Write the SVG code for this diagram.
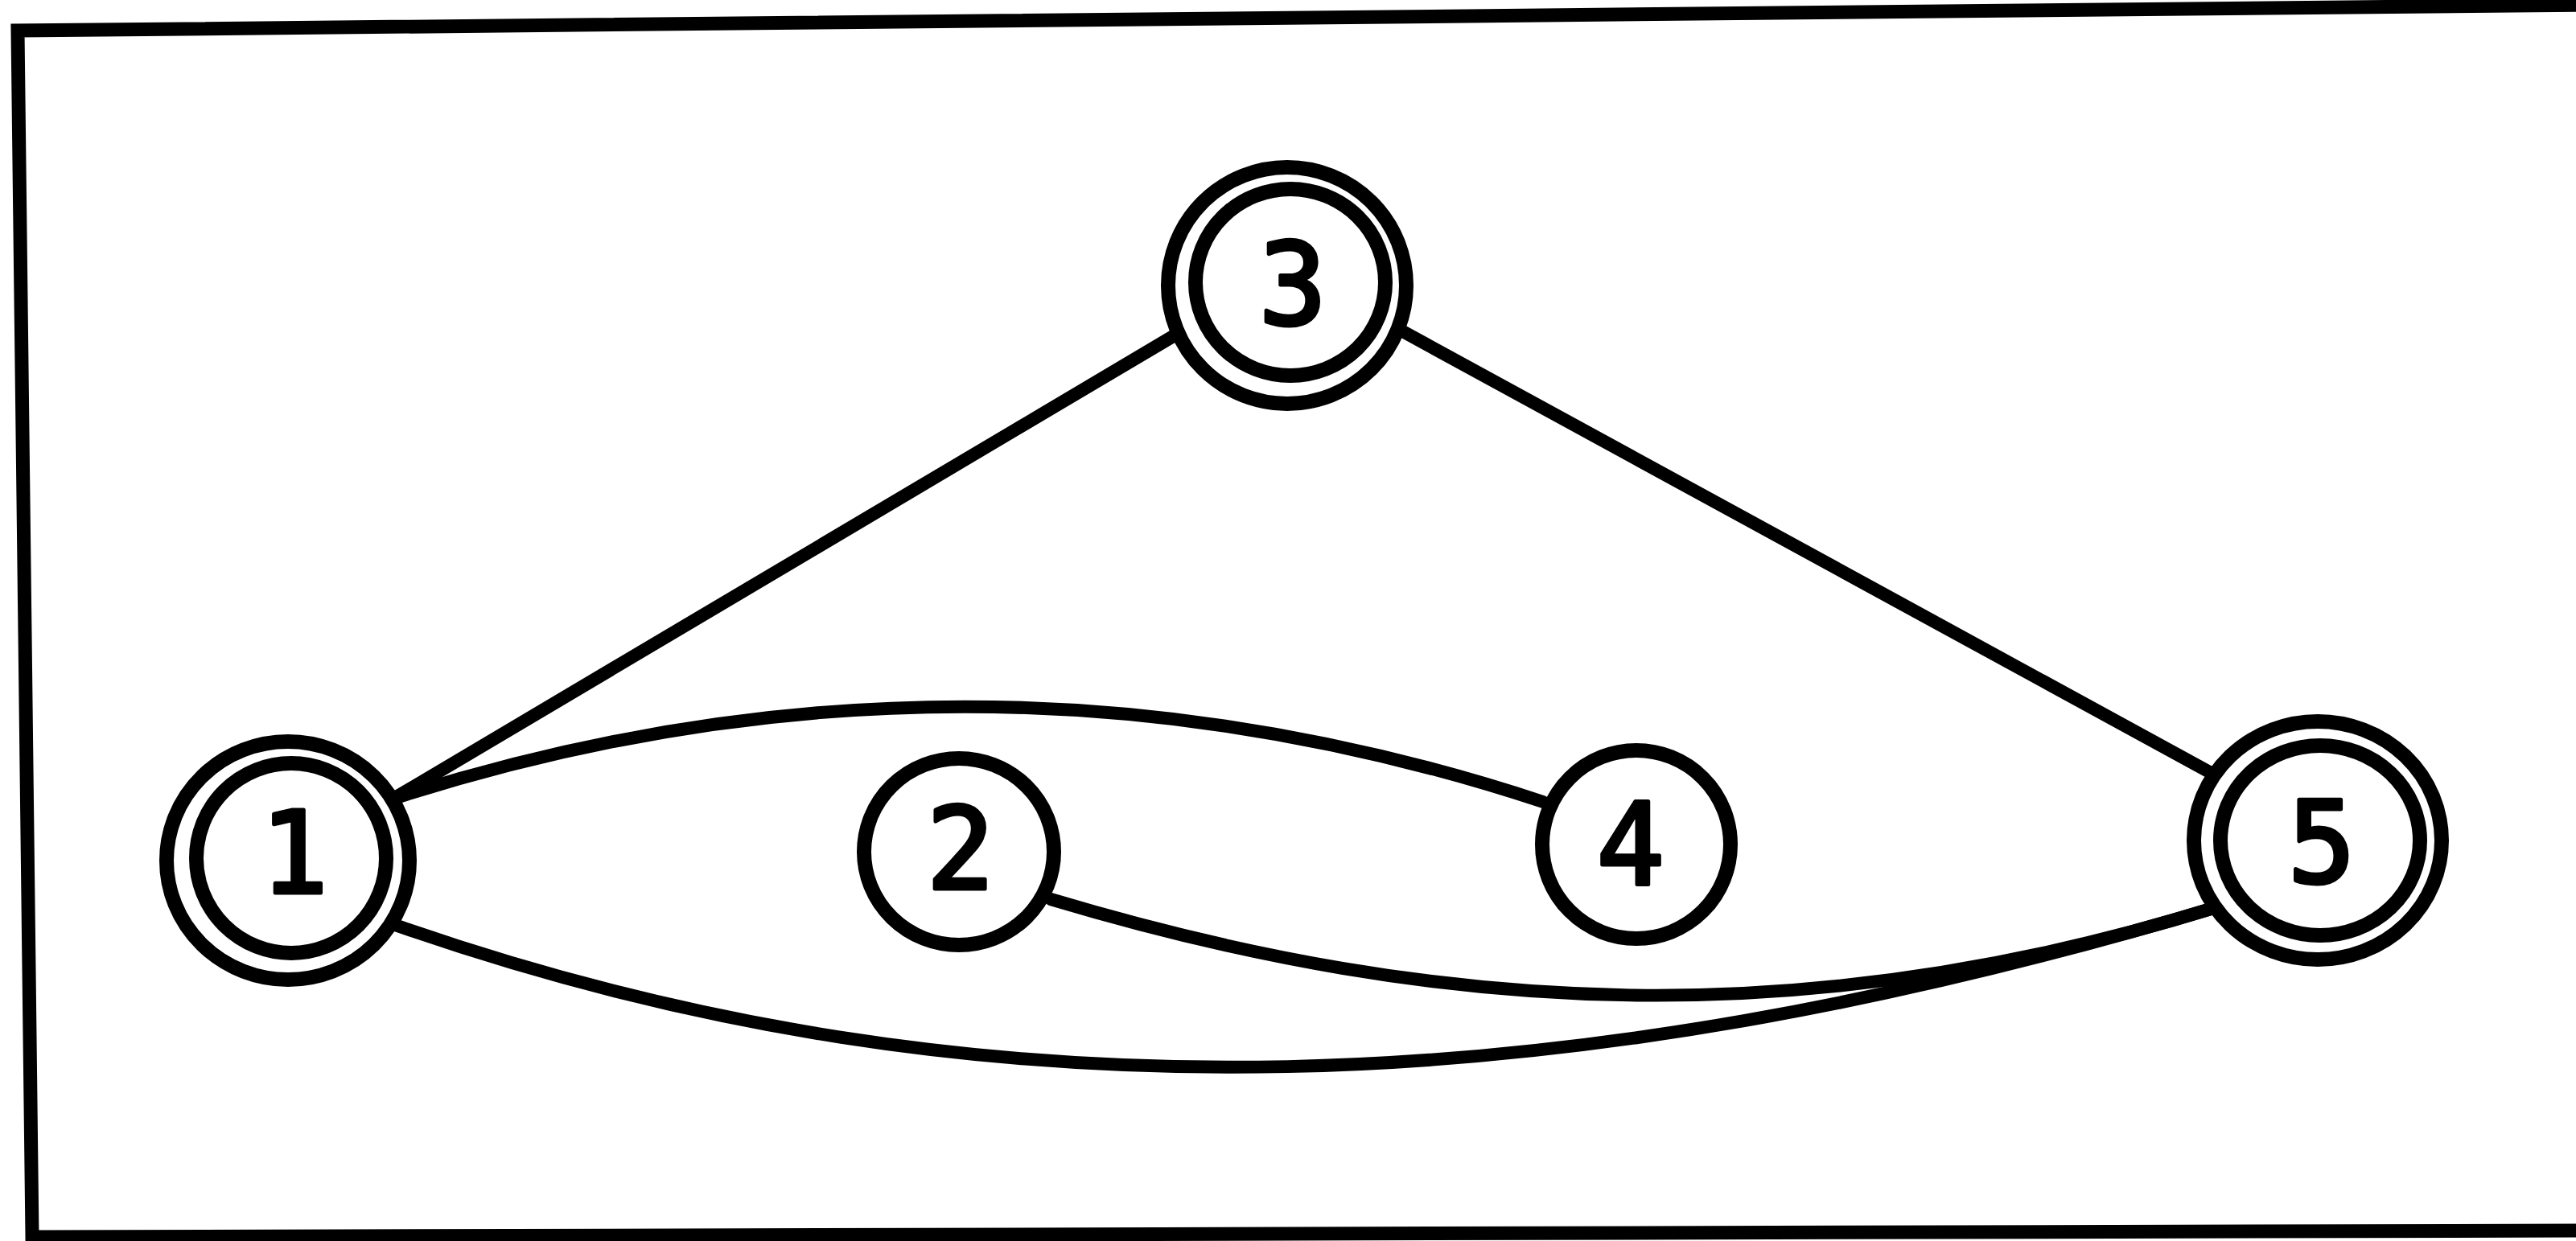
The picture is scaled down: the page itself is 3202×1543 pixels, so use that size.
<svg xmlns="http://www.w3.org/2000/svg" width="3202" height="1543" viewBox="0 0 3202 1543">
<style>
.ring{fill:#fff;stroke:#000;stroke-width:18}
.inner{fill:none;stroke:#000;stroke-width:18}
.edge{fill:none;stroke:#000;stroke-width:16;stroke-linecap:round}
.lbl{font-family:"DejaVu Sans Mono","Liberation Mono",monospace;font-size:140px;text-anchor:middle;fill:#000;stroke:#000;stroke-width:5;stroke-linejoin:round}
.frame{fill:none;stroke:#000;stroke-width:17}
</style>
<rect width="3202" height="1543" fill="#fff"/>
<path class="frame" d="M3215,6 L22,38 L40,1538 L3215,1530"/>
<g id="connectors">
<path class="edge" d="M489,993 L1460,417"/>
<path class="edge" d="M1740,410 L2752,963"/>
<path class="edge" d="M489,993 C965,840 1442,840 1918,997"/>
<path class="edge" d="M1306,1118 C1800,1266 2250,1285 2755,1128"/>
<path class="edge" d="M491,1150 C1231,1409 1955,1368 2755,1128"/>
</g>
<g id="node1">
<ellipse class="ring" cx="358" cy="1070" rx="151" ry="148"/>
<ellipse class="inner" cx="362" cy="1067" rx="118" ry="118"/>
<text class="lbl" x="366" y="1110">1</text>
</g>
<g id="node2">
<ellipse class="ring" cx="1192" cy="1059" rx="118" ry="116"/>
<text class="lbl" x="1194" y="1105">2</text>
</g>
<g id="node3">
<ellipse class="ring" cx="1600" cy="355" rx="148" ry="147"/>
<ellipse class="inner" cx="1604" cy="351" rx="118" ry="116"/>
<text class="lbl" x="1607" y="403">3</text>
</g>
<g id="node4">
<ellipse class="ring" cx="2034" cy="1050" rx="117" ry="117"/>
<text class="lbl" x="2027" y="1100">4</text>
</g>
<g id="node5">
<ellipse class="ring" cx="2881" cy="1045" rx="154" ry="148"/>
<ellipse class="inner" cx="2884" cy="1045" rx="124" ry="118"/>
<text class="lbl" x="2886" y="1097">5</text>
</g>
</svg>
